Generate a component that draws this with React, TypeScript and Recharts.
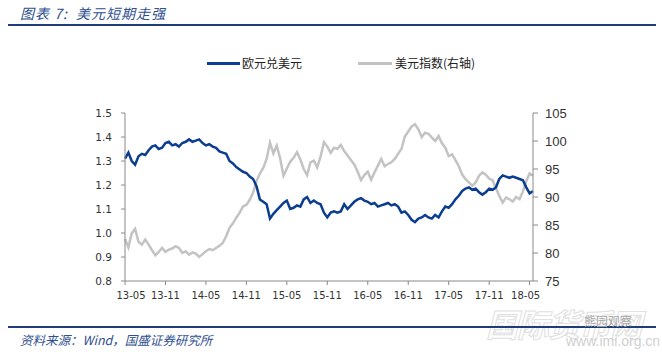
import React from 'react';
import { LineChart, Line, XAxis, YAxis, Legend } from 'recharts';

const tickLabels = ['13-05', '13-11', '14-05', '14-11', '15-05', '15-11', '16-05', '16-11', '17-05', '17-11', '18-05'];
const tickMonths = [0, 6, 12, 18, 24, 30, 36, 42, 48, 54, 60];
const leftTicks = [0.8, 0.9, 1.0, 1.1, 1.2, 1.3, 1.4, 1.5];
const rightTicks = [75, 80, 85, 90, 95, 100, 105];
const seriesNames = ['欧元兑美元', '美元指数(右轴)'];

// half-month steps starting May 2013
const eurUsd = [
  1.31, 1.335, 1.30, 1.285, 1.32, 1.33, 1.325, 1.345, 1.36, 1.365,
  1.35, 1.355, 1.375, 1.38, 1.365, 1.37, 1.36, 1.375, 1.38, 1.39,
  1.38, 1.385, 1.39, 1.375, 1.365, 1.37, 1.36, 1.355, 1.34, 1.335,
  1.33, 1.30, 1.29, 1.275, 1.265, 1.255, 1.25, 1.235, 1.225, 1.195,
  1.14, 1.13, 1.12, 1.06, 1.08, 1.095, 1.11, 1.125, 1.135, 1.10,
  1.105, 1.115, 1.11, 1.14, 1.15, 1.125, 1.135, 1.125, 1.12, 1.085,
  1.065, 1.085, 1.09, 1.085, 1.09, 1.12, 1.10, 1.115, 1.13, 1.14,
  1.145, 1.135, 1.13, 1.12, 1.125, 1.11, 1.115, 1.12, 1.125, 1.115,
  1.12, 1.11, 1.085, 1.09, 1.075, 1.055, 1.045, 1.06, 1.065, 1.075,
  1.065, 1.06, 1.075, 1.065, 1.09, 1.11, 1.105, 1.12, 1.14, 1.155,
  1.175, 1.185, 1.19, 1.18, 1.185, 1.17, 1.16, 1.17, 1.185, 1.18,
  1.19, 1.225, 1.24, 1.235, 1.23, 1.235, 1.23, 1.225, 1.22, 1.19,
  1.165, 1.175,
];

const dxy = [
  82.5, 81.0, 83.5, 84.3, 82.0, 81.5, 82.4, 81.5, 80.5, 79.6,
  80.2, 80.9, 80.2, 80.6, 80.8, 81.2, 80.9, 80.0, 80.3, 79.7,
  80.1, 79.9, 79.3, 79.8, 80.3, 80.7, 80.5, 80.9, 81.3, 81.8,
  83.0, 84.5, 85.3, 86.3, 87.2, 88.3, 88.6, 89.5, 90.8, 92.8,
  94.2, 95.2, 96.8, 99.7, 97.8, 99.2, 96.9, 93.8, 95.1, 96.3,
  97.0, 98.0, 96.7, 95.0, 93.9, 96.2, 96.5, 95.3, 97.2, 99.8,
  99.0, 97.9, 98.8, 98.6, 99.3, 98.2, 97.4, 96.6, 95.8, 94.5,
  93.0, 93.9, 94.5, 93.1, 94.4, 95.6, 96.8, 95.5, 95.9, 96.2,
  96.8, 97.7, 98.6, 100.8, 101.7, 102.6, 103.0, 102.1, 100.7, 101.5,
  101.3, 100.6, 100.0, 100.9, 99.6, 98.8, 97.3, 97.6, 96.6, 95.5,
  94.0, 93.2, 92.6, 92.0, 92.6, 93.8, 94.4, 94.0, 93.3, 93.0,
  91.6, 90.2, 89.0, 89.9, 89.6, 89.2, 90.0, 89.6, 91.0, 92.8,
  94.2, 93.8,
];

const data = eurUsd.map((v, i) => ({ t: i * 0.5, eur: v, dxy: dxy[i] }));

const BLUE = '#0b3d91';
const GRAY = '#c3c3c3';
const AXIS = '#8a8a8a';

const XTick = (props: any) => {
  const { x, y, payload, index } = props;
  const i = tickMonths.indexOf(payload.value);
  const dx = index === 0 ? 6 : i === tickMonths.length - 1 ? -4 : 0;
  return (
    <text x={x + dx} y={y + 12} textAnchor="middle" fontFamily="DejaVu Sans" fontSize={10} fill="#333">
      {tickLabels[i]}
    </text>
  );
};

const LegendContent = () => (
  <div style={{ position: 'relative', width: 662, height: 20 }}>
    <div style={{ position: 'absolute', left: 207, top: 9, width: 33, height: 3, background: BLUE }} />
    <div style={{ position: 'absolute', left: 242, top: 1, fontFamily: '"Noto Sans CJK SC"', fontSize: 12, color: '#222', whiteSpace: 'nowrap' }}>{seriesNames[0]}</div>
    <div style={{ position: 'absolute', left: 358, top: 9, width: 34, height: 3, background: GRAY }} />
    <div style={{ position: 'absolute', left: 395, top: 1, fontFamily: '"Noto Sans CJK SC"', fontSize: 12, color: '#222', whiteSpace: 'nowrap' }}>{seriesNames[1]}</div>
  </div>
);

export default function App() {
  return (
    <div style={{ position: 'absolute', left: 0, top: 0, width: 662, height: 356, background: '#fff', overflow: 'hidden' }}>
      <div style={{ position: 'absolute', left: 20, top: 3, fontFamily: '"Noto Sans CJK SC"', fontStyle: 'italic', fontSize: 14, letterSpacing: 1, color: '#2f4f8f', whiteSpace: 'nowrap' }}>
        图表 7:&nbsp; 美元短期走强
      </div>
      <div style={{ position: 'absolute', left: 8, top: 24, width: 648, height: 2, background: '#1f3c78' }} />
      <LineChart width={662} height={356} data={data} margin={{ top: 93, right: 0, bottom: 55, left: 0 }}>
        <XAxis
          dataKey="t"
          type="number"
          domain={[0, 60.5]}
          ticks={tickMonths}
          tick={<XTick />}
          height={20}
          stroke={AXIS}
          tickSize={4}
          interval={0}
        />
        <YAxis
          yAxisId="left"
          domain={[0.8, 1.5]}
          ticks={leftTicks}
          tickFormatter={(v: number) => v.toFixed(1)}
          width={125}
          stroke={AXIS}
          tickSize={4}
          tickMargin={9}
          tick={{ fontFamily: 'DejaVu Sans', fontSize: 10.5, fill: '#333' }}
          interval={0}
        />
        <YAxis
          yAxisId="right"
          orientation="right"
          domain={[75, 105]}
          ticks={rightTicks}
          width={129}
          stroke={AXIS}
          tickSize={5}
          tickMargin={7}
          tick={{ fontFamily: 'Liberation Sans', fontSize: 13, fill: '#333' }}
          interval={0}
        />
        <Legend verticalAlign="top" content={<LegendContent />} wrapperStyle={{ position: 'absolute', top: 53, left: 0, width: 662 }} />
        <Line yAxisId="right" dataKey="dxy" stroke={GRAY} strokeWidth={2.5} dot={false} isAnimationActive={false} type="linear" />
        <Line yAxisId="left" dataKey="eur" stroke={BLUE} strokeWidth={2.5} dot={false} isAnimationActive={false} type="linear" />
      </LineChart>
      <div style={{ position: 'absolute', left: 486, top: 300, fontFamily: '"Noto Sans CJK SC"', fontStyle: 'italic', fontWeight: 700, fontSize: 32, color: 'rgba(255,255,255,0.85)', WebkitTextStroke: '1px #e0e0e0', whiteSpace: 'nowrap', letterSpacing: -1 }}>
        国际货币网
      </div>
      <div style={{ position: 'absolute', left: 8, top: 326, width: 648, height: 2, background: '#1f3c78' }} />
      <div style={{ position: 'absolute', left: 584, top: 312, fontFamily: '"Noto Sans CJK SC"', fontSize: 12, color: '#a8a8a8', whiteSpace: 'nowrap' }}>熊园观察</div>
      <div style={{ position: 'absolute', left: 20, top: 330, fontFamily: '"Noto Sans CJK SC"', fontStyle: 'italic', fontSize: 12.5, color: '#2f4f8f', whiteSpace: 'nowrap' }}>
        资料来源：Wind，国盛证券研究所
      </div>
      <div style={{ position: 'absolute', left: 566, top: 333, fontFamily: 'Liberation Sans', fontSize: 14, color: '#d0d0d0', whiteSpace: 'nowrap' }}>www.imi.org.cn</div>
    </div>
  );
}
